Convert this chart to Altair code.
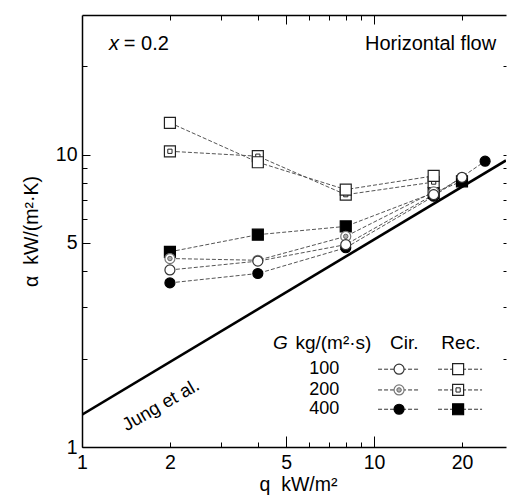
import altair as alt
import pandas as pd

# ---------------- data ----------------
cir100_q = [2, 4, 8, 16, 20]
cir100_a = [4.03, 4.32, 4.92, 7.29, 8.36]
cir200_q = [2, 4, 8, 16]
cir200_a = [4.41, 4.35, 5.25, 7.45]
cir400_q = [2, 4, 8, 16, 24]
cir400_a = [3.64, 3.92, 4.80, 7.20, 9.49]
rec100_q = [2, 4, 8, 16]
rec100_a = [12.84, 9.41, 7.59, 8.45]
rec200_q = [2, 4, 8, 16]
rec200_a = [10.26, 9.87, 7.29, 8.05]
rec400_q = [2, 4, 8, 16, 20]
rec400_a = [4.65, 5.32, 5.68, 7.40, 8.10]

jung_q = [1, 28.3]
jung_a = [1.29, 9.55]

G_labels = ["100", "200", "400"]
x_major = [1, 5, 10]
x_minor = [2, 3, 4, 6, 7, 8, 9, 20]
y_major = [1, 5, 10]
y_minor = [2, 3, 4, 6, 7, 8, 9, 20]

# ---------------- styles ----------------
style = {
    "rec400": ("square", "black", "black", "400", "Rec."),
    "cir400": ("circle", "black", "black", "400", "Cir."),
    "rec200": ("square", "white", "#222222", "200", "Rec."),
    "cir200": ("circle", "white", "#777777", "200", "Cir."),
    "rec100": ("square", "white", "#222222", "100", "Rec."),
    "cir100": ("circle", "white", "#333333", "100", "Cir."),
}
series = {
    "cir100": (cir100_q, cir100_a), "cir200": (cir200_q, cir200_a),
    "cir400": (cir400_q, cir400_a), "rec100": (rec100_q, rec100_a),
    "rec200": (rec200_q, rec200_a), "rec400": (rec400_q, rec400_a),
}
rows = []
for name in style:
    qs, als = series[name]
    sh, fi, st, g, kind = style[name]
    for q, a in zip(qs, als):
        rows.append(dict(series=name, q=q, alpha=a, shape=sh, fill=fi, stroke=st,
                         G=g, kind=kind))
df = pd.DataFrame(rows)
size_of = {"circle": 100, "square": 121}
df["size"] = df["shape"].map(size_of)

inner = df[df["G"] == "200"].copy()
inner["ifill"] = inner["shape"].map({"circle": "#b0b0b0", "square": "white"})
inner["istroke"] = inner["shape"].map({"circle": "#666666", "square": "#222222"})
inner["isize"] = inner["shape"].map({"circle": 20, "square": 18})

jung = pd.DataFrame({"q": jung_q, "alpha": jung_a})

# legend table (placed in data coordinates of the plot)
leg_rows_alpha = [1.845, 1.567, 1.346]
leg_col_q = {"Cir.": 12.18, "Rec.": 19.40}
leg_dash = {"Cir.": (10.32, 14.15), "Rec.": (16.56, 23.43)}
leg = []
for name, (sh, fi, st, g, kind) in style.items():
    a = leg_rows_alpha[G_labels.index(g)]
    leg.append(dict(q=leg_col_q[kind], alpha=a, shape=sh, fill=fi, stroke=st,
                    size=size_of[sh], G=g, q1=leg_dash[kind][0], q2=leg_dash[kind][1]))
leg = pd.DataFrame(leg)
leg_inner = leg[leg["G"] == "200"].copy()
leg_inner["ifill"] = leg_inner["shape"].map({"circle": "#b0b0b0", "square": "white"})
leg_inner["istroke"] = leg_inner["shape"].map({"circle": "#666666", "square": "#222222"})
leg_inner["isize"] = leg_inner["shape"].map({"circle": 20, "square": 18})

row_labels = pd.DataFrame({"q": [7.6] * 3, "alpha": leg_rows_alpha, "t": G_labels})
head_center = pd.DataFrame({"q": [12.69, 19.83], "alpha": [2.27, 2.27], "t": ["Cir.", "Rec."]})
head_unit = pd.DataFrame({"q": [5.38], "alpha": [2.27], "t": ["kg/(m²·s)"]})
head_G = pd.DataFrame({"q": [4.51], "alpha": [2.27], "t": ["G"]})
ann_italic = pd.DataFrame({"q": [1.237], "alpha": [23.8], "t": ["x"]})
ann_plain = pd.DataFrame({"q": [1.39, 9.31], "alpha": [23.8, 23.8], "t": ["= 0.2", "Horizontal flow"]})
jung_lab = pd.DataFrame({"q": [1.86], "alpha": [1.393], "t": ["Jung et al."]})

# ---------------- scales & axes ----------------
X = alt.Scale(type="log", domain=[1, 28.3], nice=False)
Y = alt.Scale(type="log", domain=[1, 30], nice=False)
FS = 19.5
LFS = 19
RFS = 18
common = dict(grid=False, tickColor="black", domainColor="black", labelColor="black",
              tickWidth=1)

x_bot_major = alt.Axis(orient="bottom", values=x_major, tickSize=11, offset=-11, domain=False,
                       labelFontSize=FS, labelPadding=6, labelFlush=False, labelOverlap=False,
                       format="d", title="q\u00a0\u00a0kW/m²", titleFontSize=FS,
                       titleFontWeight="normal", titleColor="black", titleX=216, titlePadding=4,
                       **common)
x_bot_minor = alt.Axis(orient="bottom", values=x_minor, tickSize=5, offset=-5, domain=False,
                       labelFontSize=FS, labelPadding=6, labelFlush=False, labelOverlap=False,
                       labelExpr="datum.value == 2 || datum.value == 20 ? format(datum.value, 'd') : ''",
                       title=None, **common)
x_bot_domain = alt.Axis(orient="bottom", ticks=False, labels=False, domain=True, domainWidth=1.5,
                        title=None, **common)
x_top_major = alt.Axis(orient="top", values=[5, 10], tickSize=9, offset=-9, domain=False,
                       labels=False, title=None, **common)
x_top_minor = alt.Axis(orient="top", values=x_minor, tickSize=5, offset=-5, domain=False,
                       labels=False, title=None, **common)
x_top_domain = alt.Axis(orient="top", ticks=False, labels=False, domain=True, domainWidth=1.5,
                        title=None, **common)

y_left_major = alt.Axis(orient="left", values=y_major, tickSize=8, offset=-8, domain=False,
                        labelFontSize=FS, labelPadding=5, labelOverlap=False, labelFlush=False,
                        format="d", title="α\u00a0\u00a0kW/(m²·K)", titleFontSize=FS,
                        titleFontWeight="normal", titleColor="black", titlePadding=14, **common)
y_left_minor = alt.Axis(orient="left", values=y_minor, tickSize=5, offset=-5, domain=False,
                        labels=False, title=None, **common)
y_left_domain = alt.Axis(orient="left", ticks=False, labels=False, domain=True, domainWidth=1.5,
                         title=None, **common)
y_right = alt.Axis(orient="right", values=[2, 3, 4, 5, 6, 7, 8, 9, 10, 20], tickSize=3, offset=-3,
                   domain=False, labels=False, title=None, **common)


def pos(xaxis=None, yaxis=None, xf="q"):
    return dict(x=alt.X(f"{xf}:Q", scale=X, axis=xaxis),
                y=alt.Y("alpha:Q", scale=Y, axis=yaxis))


def pts(data, xaxis=None, yaxis=None):
    return alt.Chart(data).mark_point(filled=True, opacity=1, strokeWidth=1.2).encode(
        **pos(xaxis, yaxis),
        shape=alt.Shape("shape:N", scale=None),
        fill=alt.Fill("fill:N", scale=None),
        stroke=alt.Stroke("stroke:N", scale=None),
        size=alt.Size("size:Q", scale=None))


def inner_pts(data, xaxis=None, yaxis=None):
    return alt.Chart(data).mark_point(filled=True, opacity=1, strokeWidth=1).encode(
        **pos(xaxis, yaxis),
        shape=alt.Shape("shape:N", scale=None),
        fill=alt.Fill("ifill:N", scale=None),
        stroke=alt.Stroke("istroke:N", scale=None),
        size=alt.Size("isize:Q", scale=None))


lines = alt.Chart(df).mark_line(strokeDash=[4, 2], strokeWidth=1, color="#555555").encode(
    **pos(x_bot_major, y_left_major), detail="series:N", order="q:Q")

p400 = pts(df[df["G"] == "400"], x_bot_minor, y_left_minor)
p200 = pts(df[df["G"] == "200"])
i200 = inner_pts(inner, x_bot_domain, y_left_domain)
p100 = pts(df[df["G"] == "100"])

jung_line = alt.Chart(jung).mark_line(color="black", strokeWidth=2.6, clip=True).encode(
    **pos(x_top_major, y_right))

jung_text = alt.Chart(jung_lab).mark_text(angle=330, fontSize=18.5, color="black").encode(
    **pos(x_top_minor), text="t:N")

ann1 = alt.Chart(ann_italic).mark_text(align="left", fontSize=20, fontStyle="italic",
                                       color="black").encode(**pos(x_top_domain), text="t:N")
ann2 = alt.Chart(ann_plain).mark_text(align="left", fontSize=20, color="black").encode(
    **pos(), text="t:N")

leg_dashes = alt.Chart(leg).mark_rule(strokeDash=[4, 2], strokeWidth=1, color="#333333").encode(
    x=alt.X("q1:Q", scale=X, axis=None), x2="q2:Q", y=alt.Y("alpha:Q", scale=Y, axis=None))
leg_pts = pts(leg)
leg_inner_pts = inner_pts(leg_inner)

leg_rowtxt = alt.Chart(row_labels).mark_text(align="right", fontSize=RFS, color="black").encode(
    **pos(), text="t:N")
leg_head = alt.Chart(head_center).mark_text(align="center", fontSize=LFS, color="black").encode(
    **pos(), text="t:N")
leg_unit = alt.Chart(head_unit).mark_text(align="left", fontSize=LFS, color="black").encode(
    **pos(), text="t:N")
leg_G = alt.Chart(head_G).mark_text(align="left", fontSize=LFS, fontStyle="italic",
                                    color="black").encode(**pos(), text="t:N")

chart = alt.layer(
    lines, jung_line, p400, p200, i200, p100, jung_text, ann1, ann2,
    leg_dashes, leg_pts, leg_inner_pts, leg_rowtxt, leg_head, leg_unit, leg_G,
).resolve_axis(x="independent", y="independent").properties(
    width=424, height=432,
    autosize=alt.AutoSizeParams(type="none"),
    padding={"left": 82, "top": 15, "right": 1, "bottom": 55},
).configure(font="Liberation Sans").configure_view(stroke=None)

chart.save("out.html", embed_options={"renderer": "svg", "actions": False})
